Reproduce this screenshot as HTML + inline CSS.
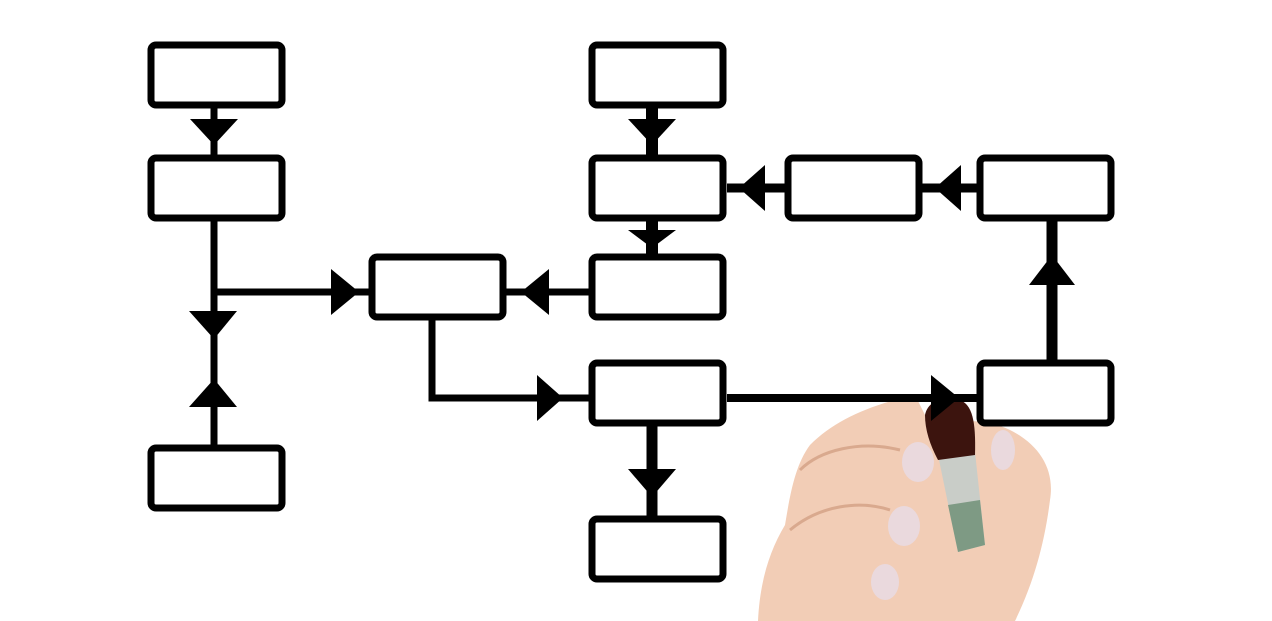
<!DOCTYPE html>
<html><head><meta charset="utf-8"><style>html,body{margin:0;padding:0;background:#fff;width:1272px;height:621px;overflow:hidden}</style></head>
<body>
<svg width="1272" height="621" viewBox="0 0 1272 621" xmlns="http://www.w3.org/2000/svg">
<!-- hand -->
<path d="M758 621 C760 580 770 550 785 525 C790 495 795 465 810 445 C835 420 870 405 915 395 L930 425 C960 418 990 420 1010 430 C1040 445 1055 470 1050 500 C1045 540 1035 580 1015 621 Z" fill="#f2cdb6"/>
<path d="M800 470 C820 450 860 440 900 450" stroke="#d9a98e" stroke-width="3" fill="none"/>
<path d="M790 530 C820 505 860 500 890 510" stroke="#d9a98e" stroke-width="3" fill="none"/>
<ellipse cx="918" cy="462" rx="16" ry="20" fill="#ead9dd"/>
<ellipse cx="904" cy="526" rx="16" ry="20" fill="#ead9dd"/>
<ellipse cx="885" cy="582" rx="14" ry="18" fill="#ead9dd"/>
<ellipse cx="1003" cy="450" rx="12" ry="20" fill="#ead9dd"/>
<path d="M938 455 L975 452 L985 545 L958 552 Z" fill="#c9cdc8"/>
<path d="M948 505 L980 500 L985 545 L958 552 Z" fill="#7e9a84"/>
<path d="M925 415 C928 400 945 395 960 400 C972 405 976 420 975 455 L938 460 C930 445 925 430 925 415 Z" fill="#3c140e"/>
<g fill="none" stroke="#000" stroke-width="7">
<rect x="151" y="45" width="131" height="60" rx="5"/>
<rect x="151" y="158" width="131" height="60" rx="5"/>
<rect x="151" y="448" width="131" height="60" rx="5"/>
<rect x="372" y="257" width="131" height="60" rx="5"/>
<rect x="592" y="45" width="131" height="60" rx="5"/>
<rect x="592" y="158" width="131" height="60" rx="5"/>
<rect x="592" y="257" width="131" height="60" rx="5"/>
<rect x="592" y="363" width="131" height="60" rx="5"/>
<rect x="592" y="519" width="131" height="60" rx="5"/>
<rect x="788" y="158" width="131" height="60" rx="5"/>
<rect x="980" y="158" width="131" height="60" rx="5"/>
<rect x="980" y="363" width="131" height="60" rx="5"/>
</g>
<g stroke="#000" fill="none" stroke-width="7">
<path d="M214 108V155"/>
<path d="M214 221V445"/>
<path d="M214 292H369"/>
<path d="M432 320V398H589"/>
<path d="M506 292H589"/>
<path d="M727 398H977" stroke-width="8"/>
<path d="M727 188H785" stroke-width="9"/>
<path d="M922 188H977" stroke-width="9"/>
<path d="M1052 221V360" stroke-width="11"/>
<path d="M652 108V155" stroke-width="12"/>
<path d="M652 221V254" stroke-width="12"/>
<path d="M652 426V516" stroke-width="11"/>
</g>
<g fill="#000">
<polygon points="190,119 238,119 214,145"/>
<polygon points="189,311 237,311 214,339"/>
<polygon points="189,407 237,407 214,379"/>
<polygon points="331,269 331,315 359,292"/>
<polygon points="549,269 549,315 521,292"/>
<polygon points="537,375 537,421 563,398"/>
<polygon points="628,119 676,119 652,145"/>
<polygon points="628,230 676,230 652,248"/>
<polygon points="628,469 676,469 652,497"/>
<polygon points="765,165 765,211 739,188"/>
<polygon points="961,165 961,211 935,188"/>
<polygon points="1029,285 1075,285 1052,255"/>
<polygon points="931,375 931,421 959,398"/>
</g>
</svg>
</body></html>
